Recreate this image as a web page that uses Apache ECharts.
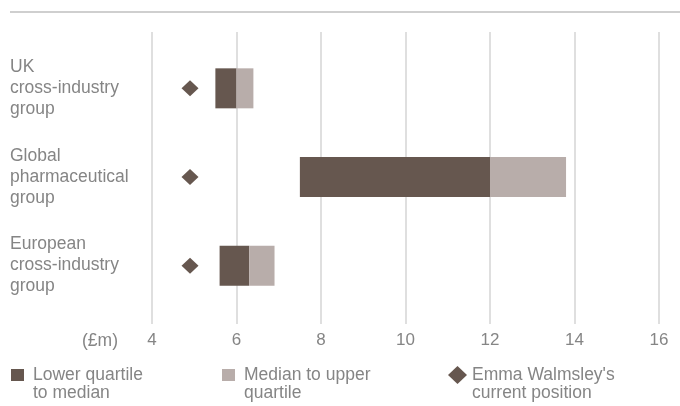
<!DOCTYPE html>
<html>
<head>
<meta charset="utf-8">
<script src="https://cdn.jsdelivr.net/npm/echarts@6/dist/echarts.min.js"></script>
<style>
  html, body { margin: 0; padding: 0; background: #fff; }
  #chart { width: 680px; height: 406px; }
</style>
</head>
<body>
<div id="chart"></div>
<script>
// Peer-group pay ranges (£m)
const groups = ['UK\ncross-industry\ngroup', 'Global\npharmaceutical\ngroup', 'European\ncross-industry\ngroup'];
const lowerQuartile = [5.5, 7.5, 5.6];
const median = [6.0, 12.0, 6.3];
const upperQuartile = [6.4, 13.8, 6.9];
const currentPosition = [4.9, 4.9, 4.9];
const xTicks = [4, 6, 8, 10, 12, 14, 16];

const seriesNames = ['Lower quartile\nto median', 'Median to upper\nquartile', "Emma Walmsley's\ncurrent position"];

const DARK = '#66574f';
const LIGHT = '#b8adaa';
const TEXT = '#858585';
const FONT = '"Liberation Sans", Arial, sans-serif';

const lowerToMedian = median.map((m, i) => +(m - lowerQuartile[i]).toFixed(4));
const medianToUpper = upperQuartile.map((u, i) => +(u - median[i]).toFixed(4));

// legend labels: a leading empty line keeps the icon level with the first text line
const legendText = { color: TEXT, fontSize: 17.5, fontFamily: FONT, lineHeight: 18, padding: [0, 0, 0, 4] };
const legendFormatter = name => '\n' + name;

const chart = echarts.init(document.getElementById('chart'), null, { renderer: 'canvas' });

chart.setOption({
  animation: false,
  backgroundColor: '#fff',
  grid: [
    { left: 152, right: 21, top: 32, bottom: 82 },
    { left: 152, right: 21, top: 44, bottom: 96 }
  ],
  xAxis: [
    {
      gridIndex: 0, type: 'value', min: xTicks[0], max: xTicks[xTicks.length - 1], interval: 2,
      axisLine: { show: false }, axisTick: { show: false },
      splitLine: { show: true, lineStyle: { color: '#d4d4d4', width: 1.5 } },
      axisLabel: { color: TEXT, fontSize: 17, fontFamily: FONT, margin: 8 }
    },
    {
      gridIndex: 1, type: 'value', min: xTicks[0], max: xTicks[xTicks.length - 1],
      show: false, splitLine: { show: false }
    }
  ],
  yAxis: [
    { gridIndex: 0, type: 'value', show: false, splitLine: { show: false } },
    {
      gridIndex: 1, type: 'category', data: groups, inverse: true,
      axisLine: { show: false }, axisTick: { show: false }, splitLine: { show: false },
      axisLabel: {
        align: 'left', margin: 142, color: TEXT, fontSize: 17.5, fontFamily: FONT, lineHeight: 21
      }
    }
  ],
  legend: [
    {
      data: [seriesNames[0]], left: 11, top: 348, padding: 0, formatter: legendFormatter,
      icon: 'rect', itemWidth: 13, itemHeight: 12, textStyle: legendText, selectedMode: false
    },
    {
      data: [seriesNames[1]], left: 222, top: 348, padding: 0, formatter: legendFormatter,
      icon: 'rect', itemWidth: 13, itemHeight: 12, textStyle: legendText, selectedMode: false
    },
    {
      data: [seriesNames[2]], left: 448, top: 348, padding: 0, formatter: legendFormatter,
      icon: 'diamond', itemWidth: 19, itemHeight: 18,
      textStyle: Object.assign({}, legendText, { padding: 0 }), selectedMode: false
    }
  ],
  graphic: [
    {
      type: 'line', shape: { x1: 10, y1: 12, x2: 680, y2: 12 },
      style: { stroke: '#cfcfcf', lineWidth: 2 }
    },
    {
      type: 'text', x: 118, y: 341,
      style: { text: '(£m)', fill: TEXT, font: '17.5px ' + FONT, textAlign: 'right', textVerticalAlign: 'middle' }
    }
  ],
  series: [
    {
      name: 'base', type: 'bar', xAxisIndex: 1, yAxisIndex: 1, stack: 'range',
      data: lowerQuartile, barWidth: 40, silent: true,
      itemStyle: { color: 'rgba(0,0,0,0)' }
    },
    {
      name: seriesNames[0], type: 'bar', xAxisIndex: 1, yAxisIndex: 1, stack: 'range',
      data: lowerToMedian, barWidth: 40, itemStyle: { color: DARK }
    },
    {
      name: seriesNames[1], type: 'bar', xAxisIndex: 1, yAxisIndex: 1, stack: 'range',
      data: medianToUpper, barWidth: 40, itemStyle: { color: LIGHT }
    },
    {
      name: seriesNames[2], type: 'scatter', xAxisIndex: 1, yAxisIndex: 1,
      symbol: 'diamond', symbolSize: [17, 16],
      data: currentPosition.map((v, i) => [v, i]),
      itemStyle: { color: DARK, opacity: 1 }
    }
  ]
});
</script>
</body>
</html>
